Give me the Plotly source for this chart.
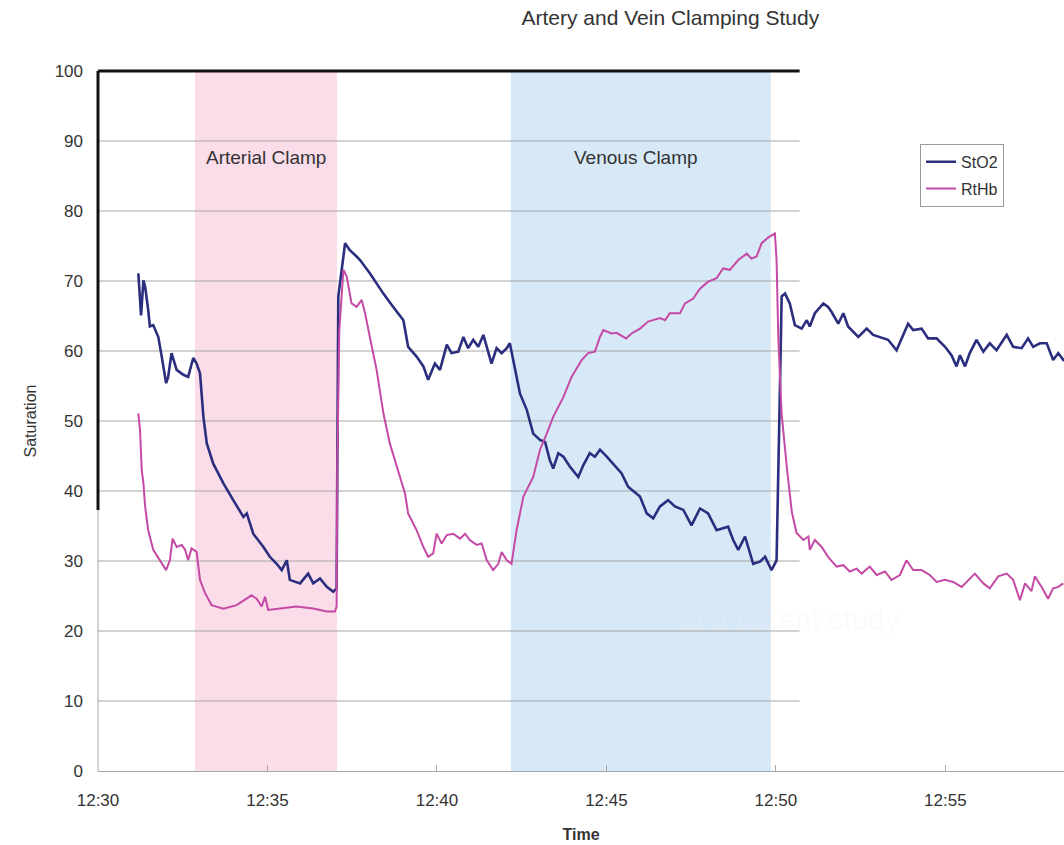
"""Artery and vein clamping study: StO2 and RtHb saturation over time."""

import plotly.graph_objects as go

# minutes after 12:30
STO2_T = [
    1.19, 1.27, 1.34, 1.39, 1.48, 1.53, 1.63, 1.78, 1.88, 2.01, 2.07, 2.17,
    2.32, 2.52, 2.66, 2.81, 2.91, 3.01, 3.11, 3.21, 3.40, 3.70, 3.99, 4.29,
    4.39, 4.58, 4.88, 5.07, 5.27, 5.42, 5.57, 5.66, 5.96, 6.20, 6.35, 6.55,
    6.75, 6.94, 7.04, 7.09, 7.29, 7.43, 7.63, 7.73, 8.02, 8.42, 8.71, 9.01,
    9.15, 9.40, 9.60, 9.74, 9.94, 10.09, 10.29, 10.43, 10.63, 10.78, 10.92,
    11.07, 11.22, 11.37, 11.47, 11.61, 11.76, 11.91, 12.06, 12.15, 12.25,
    12.45, 12.65, 12.84, 13.04, 13.19, 13.33, 13.43, 13.58, 13.73, 13.92,
    14.17, 14.32, 14.51, 14.66, 14.81, 15.01, 15.25, 15.45, 15.64, 15.99,
    16.19, 16.38, 16.58, 16.82, 17.02, 17.27, 17.51, 17.76, 18.00, 18.25,
    18.59, 18.74, 18.89, 19.09, 19.33, 19.53, 19.68, 19.87, 20.02, 20.07,
    20.12, 20.17, 20.27, 20.41, 20.56, 20.76, 20.91, 21.00, 21.15, 21.40,
    21.54, 21.64, 21.84, 21.99, 22.13, 22.43, 22.68, 22.87, 23.17, 23.31,
    23.56, 23.71, 23.90, 24.05, 24.30, 24.49, 24.74, 24.99, 25.18, 25.33,
    25.43, 25.58, 25.72, 25.92, 26.12, 26.31, 26.51, 26.81, 27.00, 27.25,
    27.44, 27.59, 27.79, 27.99, 28.18, 28.33, 28.48, 28.67,
]
STO2 = [
    71.1, 65.1, 70.1, 69.2, 65.9, 63.5, 63.7, 62.0, 59.2, 55.4, 56.3, 59.7,
    57.3, 56.6, 56.3, 59.0, 58.2, 56.8, 50.6, 46.8, 43.9, 41.1, 38.7, 36.3,
    36.8, 33.9, 32.0, 30.6, 29.6, 28.7, 30.1, 27.3, 26.8, 28.2, 26.8, 27.5,
    26.3, 25.6, 26.1, 67.8, 75.4, 74.4, 73.5, 73.0, 71.1, 68.2, 66.3, 64.4,
    60.6, 59.2, 57.8, 55.9, 58.2, 57.3, 60.9, 59.7, 59.9, 62.0, 60.4,
    61.6, 60.6, 62.3, 60.6, 58.2, 60.4, 59.7, 60.4, 61.1, 58.7,
    53.9, 51.6, 48.2, 47.3, 47.0, 44.4, 43.2, 45.4, 44.9, 43.5,
    42.0, 43.7, 45.4, 44.9, 45.9, 44.9, 43.5, 42.5, 40.6, 39.2,
    36.8, 36.1, 37.8, 38.7, 37.8, 37.3, 35.1, 37.5, 36.8, 34.4,
    34.9, 33.0, 31.6, 33.5, 29.6, 29.9, 30.6, 28.7, 30.1, 45.4,
    54.9, 67.8, 68.2, 66.8, 63.7, 63.2, 64.4, 63.5, 65.4, 66.8,
    66.3, 65.6, 63.9, 65.4, 63.5, 62.0, 63.2, 62.3, 61.8, 61.6,
    60.1, 61.8, 63.9, 63.0, 63.2, 61.8, 61.8, 60.6, 59.4, 57.8,
    59.4, 57.8, 59.7, 61.6, 59.9, 61.1, 60.1, 62.3, 60.6, 60.4,
    61.8, 60.6, 61.1, 61.1, 58.7, 59.7, 58.7, 59.3,
]

RTHB_T = [
    1.19, 1.24, 1.29, 1.34, 1.39, 1.48, 1.63, 1.83, 2.01, 2.12, 2.20, 2.32,
    2.47, 2.57, 2.66, 2.76, 2.91, 3.01, 3.16, 3.35, 3.70, 4.09, 4.39, 4.53,
    4.68, 4.83, 4.93, 5.02, 5.37, 5.86, 6.35, 6.75, 6.99, 7.04, 7.06, 7.12,
    7.24, 7.34, 7.48, 7.63, 7.78, 7.88, 8.02, 8.22, 8.42, 8.61, 8.91, 9.06,
    9.15, 9.40, 9.60, 9.74, 9.89, 9.99, 10.14, 10.29, 10.48, 10.68, 10.83,
    10.97, 11.17, 11.32, 11.47, 11.66, 11.81, 11.91, 12.06, 12.20, 12.35,
    12.55, 12.84, 13.04, 13.24, 13.43, 13.73, 13.97, 14.27, 14.46, 14.66,
    14.81, 14.91, 15.15, 15.30, 15.58, 15.74, 15.99, 16.23, 16.58, 16.73,
    16.87, 17.17, 17.32, 17.56, 17.76, 18.00, 18.25, 18.44, 18.64, 18.89,
    19.14, 19.28, 19.43, 19.58, 19.77, 19.97, 20.02, 20.07, 20.17, 20.32,
    20.47, 20.61, 20.81, 20.96, 21.00, 21.15, 21.35, 21.54, 21.79, 21.99,
    22.18, 22.38, 22.53, 22.77, 22.97, 23.22, 23.41, 23.66, 23.85, 24.05,
    24.30, 24.54, 24.74, 24.99, 25.23, 25.48, 25.72, 25.87, 26.12, 26.31,
    26.56, 26.81, 27.00, 27.20, 27.35, 27.54, 27.64, 27.84, 28.03, 28.18,
    28.33, 28.48,
]
RTHB = [
    51.1, 48.7, 43.0, 41.1, 37.8, 34.4, 31.6, 30.1, 28.7, 30.1, 33.2, 32.0,
    32.3, 31.6, 30.1, 31.8, 31.3, 27.3, 25.4, 23.7, 23.2, 23.7, 24.6, 25.1,
    24.6, 23.5, 24.9, 23.0, 23.2, 23.5, 23.2, 22.8, 22.8, 23.5, 43.9, 63.0,
    71.6, 70.6, 66.8, 66.3, 67.3, 65.4, 62.0, 57.3, 51.1, 46.8, 42.0, 39.6,
    36.8, 34.4, 32.0, 30.6, 31.1, 33.9, 32.5, 33.7, 33.9, 33.2, 33.9,
    33.0, 32.3, 32.5, 30.1, 28.7, 29.6, 31.3, 30.1, 29.6, 34.4,
    39.2, 42.0, 45.9, 48.2, 50.6, 53.4, 56.3, 58.7, 59.7, 59.9,
    62.0, 63.0, 62.5, 62.6, 61.8, 62.5, 63.2, 64.2, 64.7, 64.4,
    65.4, 65.4, 66.8, 67.5, 68.9, 69.9, 70.4, 71.8, 71.6, 73.0,
    73.9, 73.2, 73.5, 75.4, 76.2, 76.8, 73.0, 62.0, 51.0, 43.5,
    37.0, 34.0, 33.0, 33.5, 31.6, 33.0, 32.0, 30.6, 29.2, 29.4,
    28.5, 28.9, 28.2, 29.2, 28.0, 28.5, 27.3, 28.0, 30.1, 28.7,
    28.7, 28.0, 27.0, 27.3, 27.0, 26.3, 27.5, 28.2, 26.8, 26.1,
    27.8, 28.2, 27.3, 24.4, 26.8, 25.7, 27.8, 26.3, 24.6, 26.1,
    26.3, 26.8,
]

X_TICKS = [0, 5, 10, 15, 20, 25]
X_LABELS = ["12:30", "12:35", "12:40", "12:45", "12:50", "12:55"]
Y_TICKS = [0, 10, 20, 30, 40, 50, 60, 70, 80, 90, 100]

# clamp periods (minutes after 12:30)
ARTERIAL = (2.86, 7.05)
VENOUS = (12.18, 19.85)
GRID_END = 20.7
X_MAX = 28.5

NAVY = "#2b2e7e"
MAGENTA = "#c44aa6"
TEXT = "#333333"
FONT = "Liberation Sans, Arial, sans-serif"

fig = go.Figure()

for (x0, x1), fill in ((ARTERIAL, "#fbdde9"), (VENOUS, "#d7e8f6")):
    fig.add_shape(type="rect", xref="x", yref="y", x0=x0, x1=x1, y0=0, y1=100,
                  fillcolor=fill, line_width=0, layer="below")

# gridlines only span the original chart box
for v in Y_TICKS[1:-1]:
    fig.add_shape(type="line", xref="x", yref="y", x0=0, x1=GRID_END, y0=v, y1=v,
                  line=dict(color="#a6a6a6", width=1), layer="below")

# heavy frame on top and upper left, thin grey below
fig.add_shape(type="line", xref="x", yref="paper", x0=0, x1=GRID_END, y0=1, y1=1,
              line=dict(color="#111111", width=3))
fig.add_shape(type="line", xref="paper", yref="y", x0=0, x1=0, y0=37.3, y1=100,
              line=dict(color="#111111", width=3))
fig.add_shape(type="line", xref="paper", yref="y", x0=0, x1=0, y0=0, y1=37.3,
              line=dict(color="#a6a6a6", width=1))

fig.add_trace(go.Scatter(
    x=STO2_T, y=STO2, mode="lines", name="StO2", legendgroup="a",
    line=dict(color=NAVY, width=2.6),
))
fig.add_trace(go.Scatter(
    x=RTHB_T, y=RTHB, mode="lines", name="RtHb", legendgroup="b",
    line=dict(color=MAGENTA, width=2),
))

fig.add_annotation(x=(ARTERIAL[0] + ARTERIAL[1]) / 2, y=87.7, text="Arterial Clamp",
                   showarrow=False, font=dict(size=19, color=TEXT))
fig.add_annotation(x=15.87, y=87.7, text="Venous Clamp",
                   showarrow=False, font=dict(size=19, color=TEXT))
fig.add_annotation(x=20.4, y=21.6, text="In a recent study", showarrow=False,
                   font=dict(size=30, color="rgba(238,242,248,0.3)"))

fig.update_xaxes(
    range=[0, X_MAX], tickvals=X_TICKS, ticktext=X_LABELS,
    showgrid=False, zeroline=False,
    showline=True, linecolor="#a6a6a6", linewidth=1,
    ticks="inside", ticklen=6, tickcolor="#a6a6a6",
    ticklabelstandoff=14,
    tickfont=dict(size=17, color=TEXT),
    title=dict(text="<b>Time</b>", font=dict(size=16, color=TEXT), standoff=19),
)
fig.update_yaxes(
    range=[0, 100], tickvals=Y_TICKS,
    showgrid=False, zeroline=False, showline=False,
    ticklabelstandoff=14,
    tickfont=dict(size=17, color=TEXT),
    title=dict(text="Saturation", font=dict(size=16, color=TEXT), standoff=14),
)

fig.update_layout(
    width=1064, height=845,
    margin=dict(l=98, r=0, t=71, b=74),
    plot_bgcolor="white", paper_bgcolor="white",
    font=dict(family=FONT, color=TEXT),
    title=dict(text="Artery and Vein Clamping Study", x=0.63, xanchor="center",
               y=0.979, yanchor="middle", font=dict(size=21, color=TEXT)),
    showlegend=True,
    legend=dict(x=0.851, y=0.896, xanchor="left", yanchor="top",
                bgcolor="white", bordercolor="#9a9a9a", borderwidth=1,
                font=dict(size=16, color=TEXT),
                traceorder="grouped", tracegroupgap=3),
)

# the page's default body margin would shift the chart by 8px
fig.write_html("out.html", config={"displayModeBar": False},
               post_script="document.body.style.margin='0';")
